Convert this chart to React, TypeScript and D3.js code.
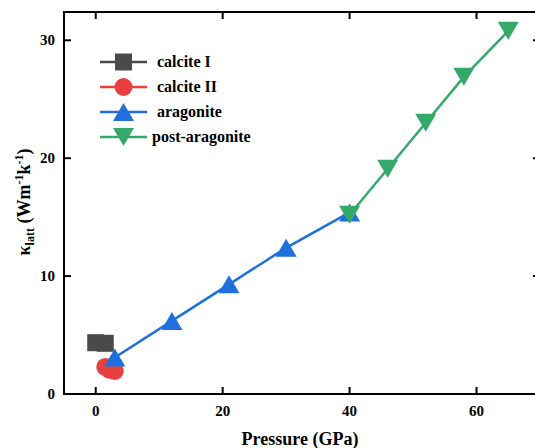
import React from "react";
import * as d3 from "d3";

const calciteI_x = [0, 1.5];
const calciteI_y = [4.35, 4.3];
const calciteII_x = [1.5, 2.2, 3.0];
const calciteII_y = [2.3, 2.05, 1.95];
const aragonite_x = [3, 12, 21, 30, 40];
const aragonite_y = [3.1, 6.2, 9.3, 12.4, 15.4];
const postAragonite_x = [40, 46, 52, 58, 65];
const postAragonite_y = [15.2, 19.1, 23.0, 26.9, 30.8];
const xTicks = [0, 20, 40, 60];
const yTicks = [0, 10, 20, 30];
const legendLabels = ["calcite I", "calcite II", "aragonite", "post-aragonite"];

const COLORS = ["#4a4a4a", "#e8403f", "#1f6fdc", "#35a96a"];
const SHAPES = ["square", "circle", "up", "down"];
const FONT = "'Liberation Serif', 'Times New Roman', serif";

const W = 535, H = 448;
const L = 64, R = 540, T = 12, B = 394;

function Marker({ shape, cx, cy, color }: { shape: string; cx: number; cy: number; color: string }) {
  if (shape === "square") return <rect x={cx - 8.5} y={cy - 8.5} width={17} height={17} fill={color} />;
  if (shape === "circle") return <circle cx={cx} cy={cy} r={9} fill={color} />;
  if (shape === "up") return <path d={`M${cx},${cy - 9}L${cx + 10.5},${cy + 9}L${cx - 10.5},${cy + 9}Z`} fill={color} />;
  return <path d={`M${cx},${cy + 9}L${cx + 10.5},${cy - 9}L${cx - 10.5},${cy - 9}Z`} fill={color} />;
}

export default function App() {
  const x = d3.scaleLinear().domain([-5, 70]).range([L, R]);
  const y = d3.scaleLinear().domain([0, 32.4]).range([B, T]);
  const series = [
    { xs: calciteI_x, ys: calciteI_y },
    { xs: calciteII_x, ys: calciteII_y },
    { xs: aragonite_x, ys: aragonite_y },
    { xs: postAragonite_x, ys: postAragonite_y },
  ];
  const line = d3.line<[number, number]>().x((d) => x(d[0])).y((d) => y(d[1]));
  const legendY = [62, 87, 112, 137];

  return (
    <svg width={W} height={H} style={{ position: "fixed", left: 0, top: 0, background: "#fff" }} fontFamily={FONT}>
      <rect x={0} y={0} width={W} height={H} fill="#fff" />
      {/* lines */}
      {series.map((s, i) => (
        <path key={"l" + i} d={line(s.xs.map((v, j) => [v, s.ys[j]]) as [number, number][]) || ""} fill="none" stroke={COLORS[i]} strokeWidth={2.5} />
      ))}
      {/* markers */}
      {series.map((s, i) =>
        s.xs.map((v, j) => <Marker key={`m${i}-${j}`} shape={SHAPES[i]} cx={x(v)} cy={y(s.ys[j])} color={COLORS[i]} />)
      )}
      {/* frame */}
      <rect x={L} y={T} width={R - L} height={B - T} fill="none" stroke="#000" strokeWidth={2} />
      {/* ticks */}
      {xTicks.map((t) => (
        <g key={"xt" + t}>
          <line x1={x(t)} x2={x(t)} y1={B} y2={B - 7} stroke="#000" strokeWidth={2} />
          <line x1={x(t)} x2={x(t)} y1={T} y2={T + 7} stroke="#000" strokeWidth={2} />
          <text x={x(t)} y={416} textAnchor="middle" fontSize={15} fontWeight="bold">{t}</text>
        </g>
      ))}
      {yTicks.map((t) => (
        <g key={"yt" + t}>
          <line x1={L} x2={L + 7} y1={y(t)} y2={y(t)} stroke="#000" strokeWidth={2} />
          <line x1={R} x2={R - 7} y1={y(t)} y2={y(t)} stroke="#000" strokeWidth={2} />
          <text x={55} y={y(t) + 5} textAnchor="end" fontSize={15} fontWeight="bold">{t}</text>
        </g>
      ))}
      {/* axis titles */}
      <text x={300} y={445} textAnchor="middle" fontSize={18} fontWeight="bold">Pressure (GPa)</text>
      <text transform="translate(30,202) rotate(-90)" textAnchor="middle" fontSize={18} fontWeight="bold">
        κ<tspan fontSize={12} dy={4}>latt</tspan>
        <tspan dy={-4}> (Wm</tspan>
        <tspan fontSize={12} dy={-7}>-1</tspan>
        <tspan dy={7}>k</tspan>
        <tspan fontSize={12} dy={-7}>-1</tspan>
        <tspan dy={7}>)</tspan>
      </text>
      {/* legend */}
      {legendLabels.map((lab, i) => (
        <g key={"lg" + i}>
          <line x1={100} x2={147} y1={legendY[i]} y2={legendY[i]} stroke={COLORS[i]} strokeWidth={2.5} />
          <Marker shape={SHAPES[i]} cx={123.5} cy={legendY[i]} color={COLORS[i]} />
          <text x={i === 3 ? 152 : 157} y={legendY[i] + 5} fontSize={16} fontWeight="bold">{lab}</text>
        </g>
      ))}
    </svg>
  );
}
